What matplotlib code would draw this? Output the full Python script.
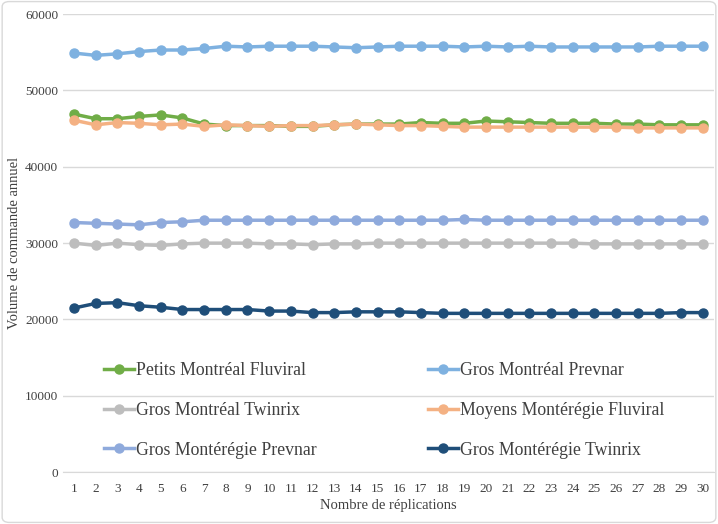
import matplotlib.pyplot as plt
from matplotlib.patches import FancyBboxPatch

plt.rcParams['font.family'] = ['Liberation Serif', 'DejaVu Serif']

replications = list(range(1, 31))

petits_mtl_fluviral = [46900, 46300, 46300, 46600, 46800, 46400, 45600, 45400, 45400, 45400,
                       45300, 45300, 45500, 45600, 45600, 45600, 45800, 45700, 45700, 46000,
                       45900, 45800, 45700, 45700, 45700, 45600, 45600, 45500, 45500, 45500]
gros_mtl_prevnar = [54900, 54600, 54800, 55100, 55300, 55300, 55500, 55800, 55700, 55800,
                    55800, 55800, 55700, 55600, 55700, 55800, 55800, 55800, 55700, 55800,
                    55700, 55800, 55700, 55700, 55700, 55700, 55700, 55800, 55800, 55800]
gros_mtl_twinrix = [30000, 29700, 30000, 29800, 29700, 29900, 30000, 30000, 30000, 29900,
                    29900, 29800, 29900, 29900, 30000, 30000, 30000, 30000, 30000, 30000,
                    30000, 30000, 30000, 30000, 29900, 29900, 29900, 29900, 29900, 29900]
moyens_mont_fluviral = [46100, 45500, 45800, 45700, 45500, 45600, 45300, 45500, 45400, 45300,
                        45400, 45400, 45500, 45600, 45500, 45400, 45400, 45300, 45200, 45200,
                        45200, 45200, 45200, 45200, 45200, 45200, 45100, 45100, 45100, 45100]
gros_mont_prevnar = [32700, 32600, 32500, 32400, 32700, 32800, 33000, 33000, 33000, 33000,
                     33000, 33000, 33000, 33000, 33000, 33000, 33000, 33000, 33100, 33000,
                     33000, 33000, 33000, 33000, 33000, 33000, 33000, 33000, 33000, 33000]
gros_mont_twinrix = [21500, 22100, 22200, 21800, 21600, 21300, 21300, 21300, 21300, 21100,
                     21100, 20900, 20900, 21000, 21000, 21000, 20900, 20800, 20800, 20800,
                     20800, 20800, 20800, 20800, 20800, 20800, 20800, 20800, 20900, 20900]

series = [
    ("Petits Montréal Fluviral", petits_mtl_fluviral, "#70AD47"),
    ("Gros Montréal Prevnar", gros_mtl_prevnar, "#7EB1E0"),
    ("Gros Montréal Twinrix", gros_mtl_twinrix, "#BDBDBD"),
    ("Moyens Montérégie Fluviral", moyens_mont_fluviral, "#F4B183"),
    ("Gros Montérégie Prevnar", gros_mont_prevnar, "#8FAADC"),
    ("Gros Montérégie Twinrix", gros_mont_twinrix, "#1F4E79"),
]

fig = plt.figure(figsize=(7.18, 5.24), dpi=100)
ax = fig.add_axes([0.088, 0.099, 0.906, 0.874])

lines = []
for name, vals, col in series:
    ln, = ax.plot(replications, vals, color=col, lw=2.5, marker="o", ms=6.5, label=name)
    lines.append(ln)

ax.set_xlim(0.5, 30.5)
ax.set_ylim(0, 60000)
ax.set_yticks(range(0, 60001, 10000))
ax.set_xticks(replications)
ax.tick_params(length=0, labelsize=9.5, colors="#404040")
ax.tick_params(axis="x", pad=8)
ax.grid(axis="y", color="#D9D9D9", lw=1)
ax.set_axisbelow(True)
for s in ["top", "right", "left"]:
    ax.spines[s].set_visible(False)
ax.spines["bottom"].set_color("#D9D9D9")

ax.set_xlabel("Nombre de réplications", fontsize=10.5, color="#404040", labelpad=3)
ax.set_ylabel("Volume de commande annuel", fontsize=10.5, color="#404040", labelpad=3)

# legend in two columns, filled row by row
leg_kw = dict(loc="upper left", bbox_transform=fig.transFigure, frameon=False, fontsize=12.8,
              handlelength=1.7, handletextpad=0.1, labelspacing=1.28, labelcolor="#404040",
              borderaxespad=0)
leg1 = ax.legend(lines[0::2], [s[0] for s in series[0::2]], bbox_to_anchor=(0.135, 0.3225), **leg_kw)
ax.add_artist(leg1)
ax.legend(lines[1::2], [s[0] for s in series[1::2]], bbox_to_anchor=(0.586, 0.3225), **leg_kw)

fig.patches.append(FancyBboxPatch((0.003, 0.003), 0.994, 0.994, boxstyle="round,pad=0,rounding_size=0.01",
                                  transform=fig.transFigure, fill=False, ec="#D9D9D9", lw=1))

fig.savefig("out.png", dpi=100)
